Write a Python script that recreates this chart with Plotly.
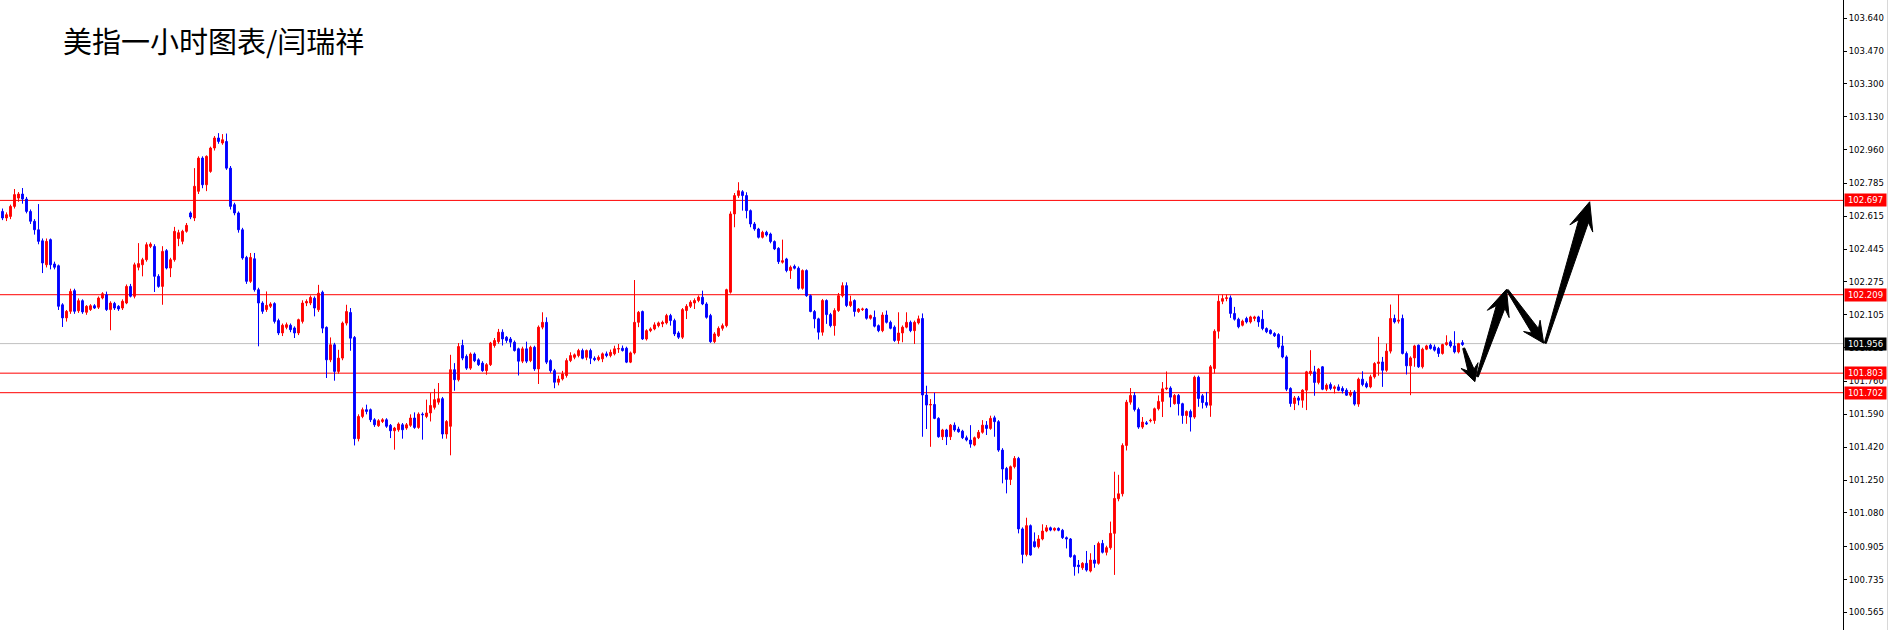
import math
import plotly.graph_objects as go

title_text = "美指一小时图表/闫瑞祥"

open_ = [
    102.640, 102.606, 102.614, 102.666, 102.709, 102.730, 102.704, 102.640, 102.589, 102.545,
    102.488, 102.364, 102.494, 102.368, 102.359, 102.157, 102.089, 102.123, 102.230, 102.126,
    102.178, 102.118, 102.132, 102.152, 102.144, 102.192, 102.209, 102.132, 102.164, 102.149,
    102.140, 102.166, 102.252, 102.201, 102.351, 102.364, 102.390, 102.459, 102.459, 102.304,
    102.252, 102.437, 102.347, 102.390, 102.500, 102.485, 102.537, 102.632, 102.606, 102.744,
    102.916, 102.778, 102.847, 102.968, 103.020, 102.994, 103.002, 102.864, 102.675, 102.632,
    102.545, 102.402, 102.278, 102.395, 102.235, 102.166, 102.132, 102.149, 102.163, 102.075,
    102.011, 102.040, 102.051, 102.037, 102.011, 102.071, 102.166, 102.166, 102.191, 102.131,
    102.222, 102.040, 101.872, 101.950, 101.812, 101.881, 102.062, 102.117, 101.988, 101.464,
    101.579, 101.614, 101.614, 101.562, 101.531, 101.553, 101.562, 101.533, 101.505, 101.510,
    101.536, 101.519, 101.533, 101.571, 101.522, 101.591, 101.579, 101.597, 101.626, 101.653,
    101.671, 101.488, 101.528, 101.821, 101.769, 101.947, 101.890, 101.829, 101.902, 101.872,
    101.855, 101.816, 101.847, 101.946, 101.966, 102.015, 101.989, 101.980, 101.963, 101.929,
    101.865, 101.929, 101.868, 101.937, 101.825, 102.041, 102.066, 101.868, 101.816, 101.756,
    101.773, 101.791, 101.868, 101.885, 101.894, 101.920, 101.885, 101.920, 101.880, 101.873,
    101.877, 101.903, 101.894, 101.903, 101.928, 101.932, 101.932, 101.860, 101.908, 102.066,
    102.122, 101.980, 102.023, 102.032, 102.049, 102.058, 102.063, 102.101, 102.075, 102.011,
    101.989, 102.127, 102.149, 102.166, 102.179, 102.196, 102.161, 102.101, 101.966, 101.997,
    102.035, 102.049, 102.222, 102.627, 102.722, 102.742, 102.722, 102.644, 102.575, 102.549,
    102.506, 102.532, 102.523, 102.484, 102.449, 102.377, 102.394, 102.334, 102.356, 102.346,
    102.242, 102.334, 102.204, 102.122, 102.084, 102.015, 102.179, 102.106, 102.049, 102.127,
    102.204, 102.256, 102.153, 102.179, 102.122, 102.132, 102.135, 102.087, 102.092, 102.049,
    102.023, 102.104, 102.066, 102.041, 101.972, 102.011, 102.041, 102.066, 102.023, 102.063,
    102.086, 101.690, 101.638, 101.641, 101.569, 101.474, 101.509, 101.474, 101.534, 101.514,
    101.503, 101.469, 101.457, 101.431, 101.469, 101.497, 101.534, 101.517, 101.572, 101.552,
    101.405, 101.310, 101.253, 101.319, 101.362, 100.997, 100.865, 101.014, 100.931, 100.905,
    100.945, 100.986, 101.003, 100.991, 101.000, 100.990, 100.952, 100.945, 100.859, 100.810,
    100.796, 100.819, 100.779, 100.836, 100.819, 100.922, 100.876, 100.900, 100.974, 101.153,
    101.179, 101.429, 101.653, 101.688, 101.615, 101.524, 101.546, 101.556, 101.558, 101.619,
    101.657, 101.722, 101.726, 101.645, 101.688, 101.645, 101.584, 101.605, 101.576, 101.782,
    101.686, 101.651, 101.637, 101.827, 102.020, 102.175, 102.189, 102.193, 102.112, 102.082,
    102.051, 102.086, 102.068, 102.086, 102.094, 102.082, 102.034, 102.025, 102.008, 102.003,
    101.944, 101.887, 101.724, 101.646, 101.675, 101.663, 101.715, 101.801, 101.810, 101.755,
    101.836, 101.720, 101.744, 101.724, 101.732, 101.724, 101.715, 101.689, 101.706, 101.643,
    101.772, 101.749, 101.732, 101.784, 101.853, 101.861, 101.818, 101.917, 102.086, 102.072,
    102.086, 101.905, 101.841, 101.882, 101.948, 101.836, 101.927, 101.948, 101.939, 101.931,
    101.905, 101.951, 101.965, 101.944, 101.913, 101.961,
]

high = [
    102.655, 102.635, 102.675, 102.756, 102.740, 102.761, 102.715, 102.650, 102.600, 102.678,
    102.500, 102.500, 102.500, 102.380, 102.365, 102.165, 102.130, 102.240, 102.240, 102.190,
    102.185, 102.155, 102.160, 102.160, 102.200, 102.222, 102.225, 102.175, 102.172, 102.155,
    102.185, 102.262, 102.265, 102.375, 102.476, 102.400, 102.480, 102.480, 102.470, 102.315,
    102.460, 102.445, 102.400, 102.560, 102.545, 102.545, 102.580, 102.640, 102.864, 102.925,
    102.925, 102.930, 102.975, 103.030, 103.045, 103.040, 103.043, 102.875, 102.685, 102.640,
    102.555, 102.410, 102.425, 102.425, 102.245, 102.175, 102.226, 102.170, 102.170, 102.085,
    102.060, 102.065, 102.060, 102.045, 102.085, 102.180, 102.185, 102.205, 102.200, 102.260,
    102.230, 102.045, 101.988, 101.960, 101.924, 102.070, 102.157, 102.140, 101.995, 101.590,
    101.625, 101.640, 101.620, 101.570, 101.565, 101.570, 101.570, 101.540, 101.525, 101.548,
    101.545, 101.545, 101.590, 101.600, 101.600, 101.600, 101.666, 101.700, 101.722, 101.752,
    101.680, 101.560, 101.898, 101.855, 101.959, 101.976, 101.900, 101.910, 101.910, 101.880,
    101.865, 101.855, 101.965, 101.985, 102.032, 102.030, 101.995, 101.990, 101.972, 101.935,
    101.940, 101.966, 101.945, 101.945, 102.050, 102.118, 102.092, 101.875, 101.825, 101.790,
    101.815, 101.880, 101.911, 101.905, 101.929, 101.930, 101.925, 101.930, 101.890, 101.895,
    101.910, 101.915, 101.925, 101.945, 101.954, 101.946, 101.940, 101.915, 102.285, 102.125,
    102.127, 102.030, 102.040, 102.066, 102.070, 102.075, 102.110, 102.110, 102.085, 102.020,
    102.140, 102.160, 102.180, 102.190, 102.205, 102.230, 102.170, 102.110, 102.015, 102.045,
    102.060, 102.240, 102.640, 102.735, 102.791, 102.750, 102.739, 102.650, 102.585, 102.555,
    102.540, 102.540, 102.530, 102.490, 102.455, 102.494, 102.400, 102.360, 102.365, 102.355,
    102.340, 102.340, 102.210, 102.130, 102.090, 102.187, 102.185, 102.115, 102.139, 102.218,
    102.273, 102.273, 102.204, 102.185, 102.140, 102.142, 102.140, 102.106, 102.127, 102.055,
    102.118, 102.127, 102.075, 102.050, 102.118, 102.050, 102.118, 102.075, 102.075, 102.101,
    102.112, 101.738, 101.669, 101.702, 101.575, 101.515, 101.515, 101.540, 101.548, 101.526,
    101.510, 101.480, 101.534, 101.475, 101.509, 101.560, 101.555, 101.583, 101.583, 101.560,
    101.415, 101.318, 101.325, 101.374, 101.370, 101.005, 101.055, 101.020, 100.979, 100.965,
    101.021, 101.017, 101.009, 101.005, 101.005, 100.997, 100.958, 100.950, 100.865, 100.836,
    100.825, 100.883, 100.871, 100.914, 100.931, 100.940, 100.910, 101.035, 101.293, 101.277,
    101.440, 101.665, 101.726, 101.705, 101.625, 101.576, 101.555, 101.568, 101.625, 101.688,
    101.757, 101.812, 101.735, 101.695, 101.695, 101.650, 101.610, 101.615, 101.790, 101.790,
    101.695, 101.706, 101.845, 102.030, 102.206, 102.210, 102.210, 102.205, 102.146, 102.090,
    102.080, 102.095, 102.100, 102.100, 102.100, 102.129, 102.040, 102.030, 102.015, 102.010,
    101.996, 101.895, 101.730, 101.685, 101.685, 101.720, 101.815, 101.922, 101.841, 101.830,
    101.840, 101.750, 101.755, 101.740, 101.745, 101.735, 101.725, 101.715, 101.715, 101.780,
    101.813, 101.760, 101.795, 101.860, 101.991, 101.887, 101.956, 102.158, 102.106, 102.210,
    102.106, 101.915, 101.890, 101.950, 101.951, 101.935, 101.950, 101.956, 101.951, 101.939,
    101.955, 101.999, 101.974, 102.020, 101.960, 101.974,
]

low = [
    102.595, 102.590, 102.600, 102.655, 102.690, 102.680, 102.630, 102.575, 102.520, 102.470,
    102.321, 102.350, 102.340, 102.340, 102.130, 102.042, 102.070, 102.110, 102.110, 102.115,
    102.110, 102.105, 102.125, 102.135, 102.135, 102.185, 102.125, 102.025, 102.130, 102.125,
    102.130, 102.160, 102.195, 102.190, 102.335, 102.304, 102.380, 102.450, 102.223, 102.245,
    102.157, 102.340, 102.300, 102.380, 102.460, 102.470, 102.530, 102.600, 102.590, 102.730,
    102.760, 102.745, 102.840, 102.955, 102.990, 102.985, 102.855, 102.650, 102.620, 102.530,
    102.390, 102.265, 102.270, 102.225, 101.942, 102.110, 102.120, 102.140, 102.060, 102.000,
    101.995, 102.030, 102.015, 101.985, 102.000, 102.060, 102.150, 102.155, 102.097, 102.120,
    102.010, 101.778, 101.860, 101.764, 101.800, 101.870, 102.050, 101.919, 101.429, 101.450,
    101.570, 101.590, 101.550, 101.525, 101.525, 101.545, 101.520, 101.467, 101.407, 101.500,
    101.464, 101.510, 101.525, 101.515, 101.515, 101.459, 101.570, 101.553, 101.615, 101.640,
    101.464, 101.464, 101.378, 101.712, 101.760, 101.870, 101.820, 101.820, 101.860, 101.840,
    101.810, 101.795, 101.840, 101.935, 101.955, 101.946, 101.960, 101.937, 101.915, 101.791,
    101.855, 101.855, 101.860, 101.815, 101.747, 102.030, 101.850, 101.805, 101.725, 101.740,
    101.765, 101.780, 101.860, 101.875, 101.885, 101.875, 101.870, 101.850, 101.865, 101.865,
    101.860, 101.885, 101.885, 101.895, 101.908, 101.915, 101.855, 101.855, 101.900, 102.041,
    101.975, 101.972, 102.015, 102.025, 102.040, 102.041, 102.055, 102.049, 101.995, 101.980,
    101.980, 102.083, 102.140, 102.135, 102.170, 102.155, 102.085, 101.960, 101.958, 101.990,
    102.023, 102.040, 102.215, 102.558, 102.710, 102.644, 102.604, 102.558, 102.540, 102.500,
    102.500, 102.510, 102.475, 102.440, 102.368, 102.370, 102.325, 102.291, 102.340, 102.235,
    102.235, 102.198, 102.118, 102.035, 101.977, 101.997, 102.058, 102.040, 101.997, 102.120,
    102.195, 102.145, 102.145, 102.096, 102.115, 102.125, 102.080, 102.080, 102.040, 102.015,
    102.015, 102.060, 102.030, 101.965, 101.954, 101.963, 102.035, 102.015, 101.954, 102.055,
    101.474, 101.514, 101.422, 101.565, 101.469, 101.457, 101.431, 101.457, 101.500, 101.495,
    101.462, 101.450, 101.417, 101.425, 101.462, 101.490, 101.483, 101.510, 101.474, 101.396,
    101.233, 101.181, 101.224, 101.310, 100.974, 100.819, 100.855, 100.859, 100.900, 100.896,
    100.938, 100.980, 100.985, 100.985, 100.985, 100.945, 100.896, 100.848, 100.755, 100.767,
    100.785, 100.776, 100.772, 100.796, 100.812, 100.870, 100.860, 100.890, 100.759, 101.140,
    101.165, 101.403, 101.640, 101.605, 101.515, 101.515, 101.535, 101.548, 101.541, 101.610,
    101.576, 101.715, 101.627, 101.640, 101.584, 101.541, 101.541, 101.501, 101.567, 101.629,
    101.620, 101.624, 101.577, 101.801, 101.982, 102.160, 102.175, 102.089, 102.075, 102.035,
    102.045, 102.060, 102.060, 102.072, 102.043, 102.025, 102.010, 102.003, 101.990, 101.931,
    101.880, 101.710, 101.629, 101.612, 101.637, 101.624, 101.612, 101.790, 101.686, 101.745,
    101.715, 101.710, 101.715, 101.698, 101.710, 101.698, 101.685, 101.680, 101.635, 101.629,
    101.735, 101.725, 101.725, 101.775, 101.790, 101.732, 101.810, 101.905, 102.060, 102.060,
    101.900, 101.796, 101.689, 101.836, 101.830, 101.827, 101.922, 101.925, 101.915, 101.887,
    101.899, 101.945, 101.935, 101.905, 101.905, 101.944,
]

close = [
    102.606, 102.623, 102.666, 102.727, 102.730, 102.704, 102.640, 102.589, 102.545, 102.485,
    102.373, 102.485, 102.364, 102.351, 102.149, 102.089, 102.123, 102.226, 102.123, 102.178,
    102.120, 102.149, 102.152, 102.140, 102.192, 102.214, 102.132, 102.166, 102.140, 102.135,
    102.175, 102.252, 102.201, 102.364, 102.370, 102.390, 102.468, 102.471, 102.304, 102.252,
    102.433, 102.347, 102.390, 102.537, 102.530, 102.537, 102.568, 102.611, 102.770, 102.916,
    102.778, 102.925, 102.968, 103.020, 103.002, 103.011, 102.864, 102.666, 102.632, 102.545,
    102.399, 102.278, 102.402, 102.235, 102.166, 102.123, 102.154, 102.161, 102.071, 102.011,
    102.051, 102.054, 102.028, 102.011, 102.080, 102.166, 102.174, 102.195, 102.140, 102.217,
    102.036, 101.872, 101.950, 101.812, 101.881, 102.062, 102.122, 101.984, 101.464, 101.579,
    101.614, 101.605, 101.562, 101.536, 101.557, 101.562, 101.528, 101.505, 101.519, 101.540,
    101.510, 101.536, 101.571, 101.522, 101.591, 101.588, 101.597, 101.636, 101.666, 101.671,
    101.488, 101.553, 101.821, 101.769, 101.941, 101.881, 101.829, 101.902, 101.867, 101.847,
    101.816, 101.847, 101.959, 101.972, 102.015, 101.980, 101.972, 101.963, 101.920, 101.865,
    101.929, 101.865, 101.937, 101.825, 102.041, 102.066, 101.860, 101.816, 101.756, 101.773,
    101.799, 101.868, 101.894, 101.898, 101.920, 101.880, 101.920, 101.880, 101.873, 101.885,
    101.903, 101.894, 101.911, 101.929, 101.930, 101.920, 101.860, 101.908, 102.066, 102.118,
    101.980, 102.023, 102.032, 102.053, 102.063, 102.066, 102.101, 102.075, 102.006, 101.989,
    102.132, 102.149, 102.170, 102.179, 102.196, 102.161, 102.092, 101.966, 102.006, 102.035,
    102.049, 102.235, 102.627, 102.722, 102.747, 102.722, 102.644, 102.575, 102.549, 102.506,
    102.532, 102.518, 102.484, 102.446, 102.380, 102.385, 102.334, 102.351, 102.346, 102.242,
    102.334, 102.204, 102.122, 102.084, 102.015, 102.179, 102.106, 102.049, 102.127, 102.204,
    102.256, 102.153, 102.173, 102.122, 102.135, 102.135, 102.087, 102.101, 102.046, 102.023,
    102.104, 102.066, 102.035, 101.972, 102.011, 102.041, 102.066, 102.023, 102.066, 102.084,
    101.690, 101.638, 101.641, 101.569, 101.474, 101.509, 101.474, 101.534, 101.509, 101.500,
    101.469, 101.457, 101.436, 101.469, 101.497, 101.534, 101.517, 101.569, 101.552, 101.405,
    101.307, 101.253, 101.319, 101.362, 100.997, 100.865, 101.014, 100.862, 100.905, 100.945,
    100.986, 101.003, 100.991, 101.000, 100.990, 100.952, 100.945, 100.853, 100.802, 100.802,
    100.819, 100.784, 100.836, 100.819, 100.922, 100.876, 100.900, 100.974, 101.155, 101.179,
    101.429, 101.653, 101.688, 101.615, 101.524, 101.550, 101.541, 101.559, 101.619, 101.657,
    101.722, 101.726, 101.679, 101.688, 101.645, 101.584, 101.605, 101.576, 101.782, 101.672,
    101.651, 101.637, 101.836, 102.020, 102.175, 102.189, 102.193, 102.112, 102.082, 102.043,
    102.072, 102.068, 102.094, 102.094, 102.068, 102.034, 102.017, 102.008, 101.996, 101.939,
    101.887, 101.720, 101.646, 101.675, 101.663, 101.715, 101.810, 101.813, 101.755, 101.824,
    101.720, 101.741, 101.724, 101.732, 101.715, 101.711, 101.689, 101.703, 101.643, 101.772,
    101.744, 101.732, 101.784, 101.853, 101.861, 101.818, 101.917, 102.086, 102.068, 102.077,
    101.905, 101.841, 101.882, 101.944, 101.836, 101.927, 101.944, 101.931, 101.922, 101.905,
    101.951, 101.961, 101.944, 101.913, 101.956, 101.951,
]

level_lines = [102.697, 102.209, 101.803, 101.702]
current_price = 101.956

tick_values = [103.640, 103.470, 103.300, 103.130, 102.960, 102.785, 102.615, 102.445,
               102.275, 102.105, 101.935, 101.760, 101.590, 101.420, 101.250, 101.080,
               100.905, 100.735, 100.565]
tick_labels = ["103.640", "103.470", "103.300", "103.130", "102.960", "102.785", "102.615",
               "102.445", "102.275", "102.105", "101.935", "101.760", "101.590", "101.420",
               "101.250", "101.080", "100.905", "100.735", "100.565"]

# forecast path arrows (candle index, price)
arrow_tail_x = [365.3, 368.7, 376.2, 385.7]
arrow_tail_y = [101.932, 101.785, 102.233, 101.958]
arrow_tip_x = [368.1, 376.0, 385.3, 396.8]
arrow_tip_y = [101.759, 102.237, 101.958, 102.690]

# ---------------- layout / style ----------------
FIG_W, FIG_H = 1891, 630
MARGIN_R = 48
PLOT_W = FIG_W - MARGIN_R
PLOT_H = FIG_H
X_RANGE = [-0.625, -0.625 + PLOT_W / 4.0]
Y_RANGE = [100.474, 103.734]

UP = "#FF0000"
DOWN = "#0000FF"
LINE_RED = "#FF0000"

x_idx = list(range(len(close)))

fig = go.Figure()
fig.add_trace(go.Candlestick(
    x=x_idx, open=open_, high=high, low=low, close=close,
    increasing=dict(line=dict(color=UP, width=1), fillcolor=UP),
    decreasing=dict(line=dict(color=DOWN, width=1), fillcolor=DOWN),
    whiskerwidth=0, hoverinfo="skip", showlegend=False,
))

shapes = []
for v in level_lines:
    shapes.append(dict(type="line", xref="paper", yref="y", x0=0, x1=1, y0=v, y1=v,
                       line=dict(color=LINE_RED, width=1), layer="below"))
shapes.append(dict(type="line", xref="paper", yref="y", x0=0, x1=1,
                   y0=current_price, y1=current_price,
                   line=dict(color="#C0C0C0", width=1), layer="below"))


def to_px(x, y):
    return ((x - X_RANGE[0]) / (X_RANGE[1] - X_RANGE[0]) * PLOT_W,
            (Y_RANGE[1] - y) / (Y_RANGE[1] - Y_RANGE[0]) * PLOT_H)


def to_data(px, py):
    return (X_RANGE[0] + px / PLOT_W * (X_RANGE[1] - X_RANGE[0]),
            Y_RANGE[1] - py / PLOT_H * (Y_RANGE[1] - Y_RANGE[0]))


head_len = [17, 26, 21, 28]
head_half = [9.0, 11.5, 10.0, 12.0]
neck_half = [3.2, 4.5, 4.0, 5.0]
tail_half = 1.0

for k in range(len(arrow_tail_x)):
    ax, ay = to_px(arrow_tail_x[k], arrow_tail_y[k])
    bx, by = to_px(arrow_tip_x[k], arrow_tip_y[k])
    dx, dy = bx - ax, by - ay
    L = math.hypot(dx, dy)
    ux, uy = dx / L, dy / L
    nx, ny = -uy, ux
    hl = head_len[k]
    neck = (bx - ux * hl * 0.72, by - uy * hl * 0.72)
    base = (bx - ux * hl, by - uy * hl)
    pts = [
        (ax + nx * tail_half, ay + ny * tail_half),
        (neck[0] + nx * neck_half[k], neck[1] + ny * neck_half[k]),
        (base[0] + nx * head_half[k], base[1] + ny * head_half[k]),
        (bx, by),
        (base[0] - nx * head_half[k], base[1] - ny * head_half[k]),
        (neck[0] - nx * neck_half[k], neck[1] - ny * neck_half[k]),
        (ax - nx * tail_half, ay - ny * tail_half),
    ]
    dpts = [to_data(px, py) for px, py in pts]
    path = "M " + " L ".join(f"{x:.4f},{y:.5f}" for x, y in dpts) + " Z"
    shapes.append(dict(type="path", xref="x", yref="y", path=path,
                       fillcolor="black", line=dict(color="black", width=1)))

# window border at far right
shapes.append(dict(type="line", xref="paper", yref="paper",
                   x0=1887.5 / PLOT_W, x1=1887.5 / PLOT_W, y0=0, y1=1,
                   line=dict(color="#D8D8D8", width=1)))

annotations = [dict(
    text=title_text, xref="paper", yref="paper",
    x=61 / PLOT_W, y=1 - 40 / PLOT_H, xanchor="left", yanchor="middle",
    showarrow=False,
    font=dict(family="Noto Sans CJK SC", size=29, color="black"),
)]

label_font = dict(family="DejaVu Sans", size=8.5, color="white")
for v in level_lines:
    annotations.append(dict(
        text=f"{v:.3f}", xref="paper", yref="y", x=1, y=v,
        xanchor="left", yanchor="middle", xshift=1, showarrow=False,
        bgcolor=LINE_RED, borderpad=1, width=39, height=10, align="center",
        font=label_font,
    ))
annotations.append(dict(
    text=f"{current_price:.3f}", xref="paper", yref="y", x=1, y=current_price,
    xanchor="left", yanchor="middle", xshift=1, showarrow=False,
    bgcolor="black", borderpad=1, width=39, height=10, align="center",
    font=label_font,
))

fig.update_layout(
    width=FIG_W, height=FIG_H,
    margin=dict(l=0, r=MARGIN_R, t=0, b=0, pad=0),
    paper_bgcolor="white", plot_bgcolor="white",
    showlegend=False, hovermode=False,
    boxgap=0.35,
    shapes=shapes, annotations=annotations,
    xaxis=dict(range=X_RANGE, showgrid=False, zeroline=False, showticklabels=False,
               ticks="", showline=False, rangeslider=dict(visible=False), fixedrange=True),
    yaxis=dict(range=Y_RANGE, side="right", showgrid=False, zeroline=False,
               showline=True, linecolor="black", linewidth=1,
               ticks="outside", ticklen=3, tickcolor="black", tickwidth=1,
               tickvals=tick_values, ticktext=tick_labels,
               tickfont=dict(family="DejaVu Sans", size=8.5, color="black"),
               fixedrange=True),
)

fig.write_html("out.html", config={"displayModeBar": False},
               post_script="document.body.style.margin='0';document.body.style.overflow='hidden';")
